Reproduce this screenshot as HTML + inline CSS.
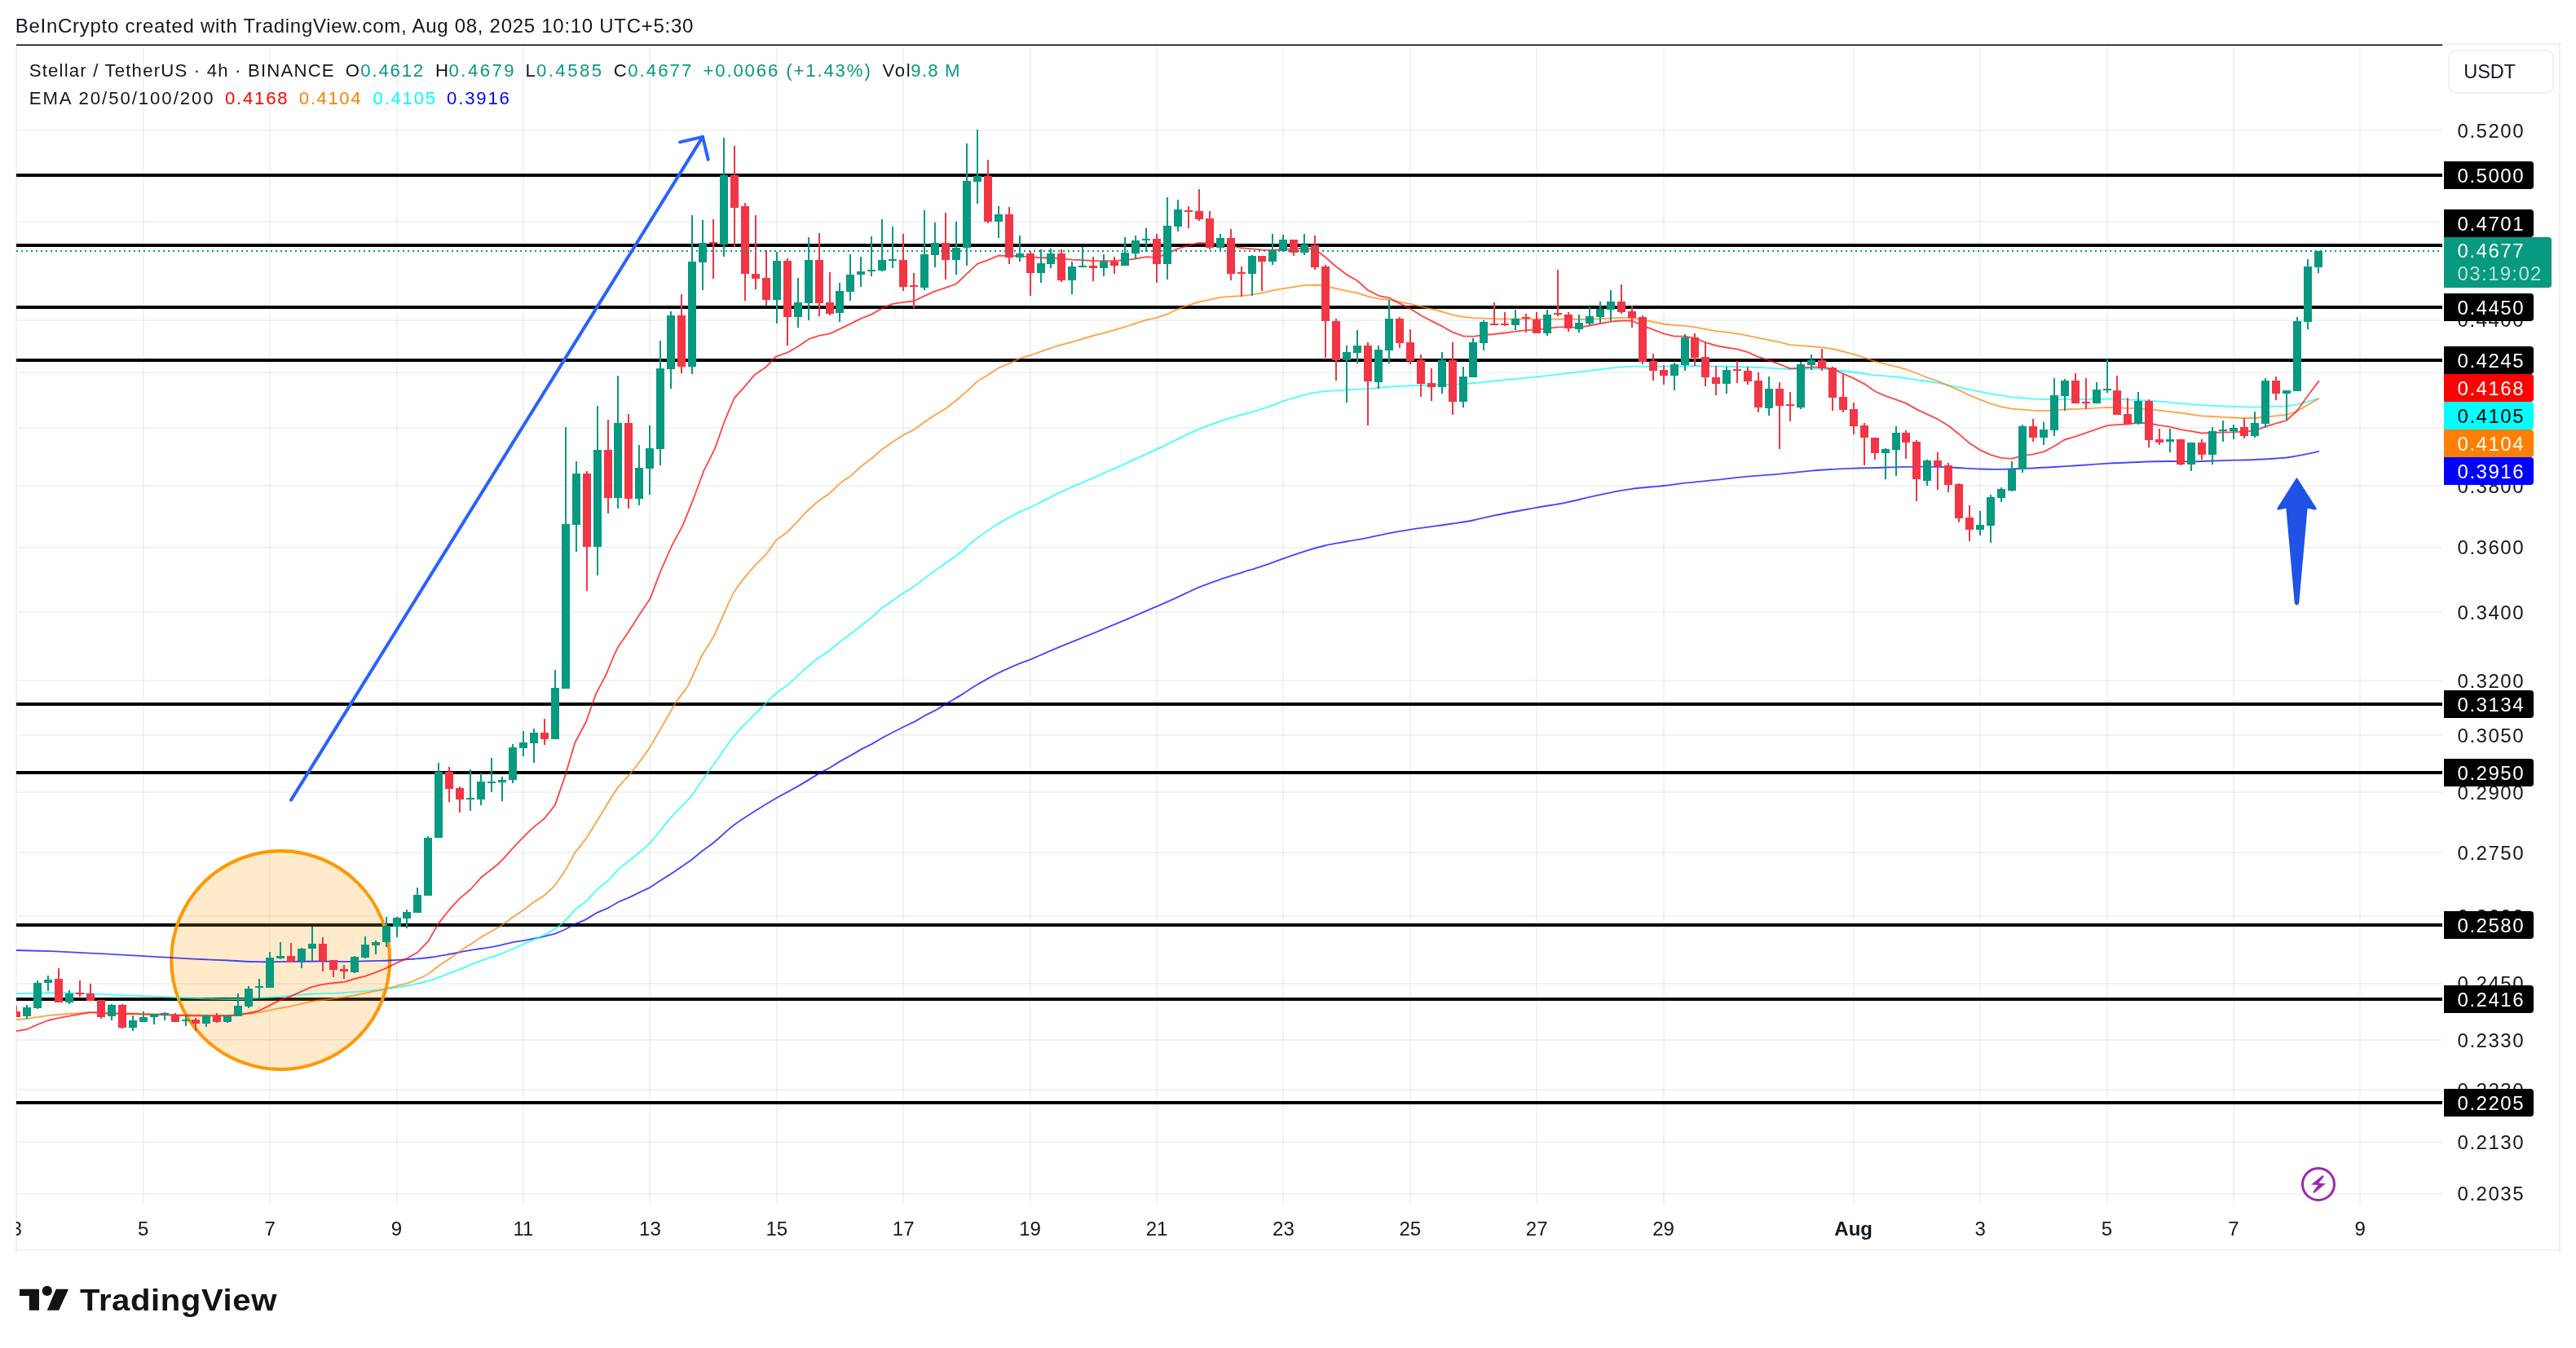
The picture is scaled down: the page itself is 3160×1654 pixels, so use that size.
<!DOCTYPE html>
<html><head><meta charset="utf-8"><title>XLMUSDT chart</title>
<style>
html,body{margin:0;padding:0;background:#fff;}
body{width:3160px;height:1654px;font-family:"Liberation Sans",sans-serif;}
svg{display:block;}
svg text{font-family:"Liberation Sans",sans-serif;white-space:pre;}
</style></head><body>
<svg width="3160" height="1654" viewBox="0 0 3160 1654">
<rect width="3160" height="1654" fill="#fff"/>
<g fill="rgb(42,46,57)" fill-opacity="0.06" shape-rendering="crispEdges">
<rect x="175" y="57" width="2" height="1421"/>
<rect x="330" y="57" width="2" height="1421"/>
<rect x="486" y="57" width="2" height="1421"/>
<rect x="641" y="57" width="2" height="1421"/>
<rect x="796" y="57" width="2" height="1421"/>
<rect x="952" y="57" width="2" height="1421"/>
<rect x="1107" y="57" width="2" height="1421"/>
<rect x="1263" y="57" width="2" height="1421"/>
<rect x="1418" y="57" width="2" height="1421"/>
<rect x="1573" y="57" width="2" height="1421"/>
<rect x="1729" y="57" width="2" height="1421"/>
<rect x="1884" y="57" width="2" height="1421"/>
<rect x="2040" y="57" width="2" height="1421"/>
<rect x="2273" y="57" width="2" height="1421"/>
<rect x="2428" y="57" width="2" height="1421"/>
<rect x="2584" y="57" width="2" height="1421"/>
<rect x="2739" y="57" width="2" height="1421"/>
<rect x="2894" y="57" width="2" height="1421"/>
<rect x="21" y="159" width="2975" height="2"/>
<rect x="21" y="271" width="2975" height="2"/>
<rect x="21" y="392" width="2975" height="2"/>
<rect x="21" y="456" width="2975" height="2"/>
<rect x="21" y="524" width="2975" height="2"/>
<rect x="21" y="595" width="2975" height="2"/>
<rect x="21" y="671" width="2975" height="2"/>
<rect x="21" y="750" width="2975" height="2"/>
<rect x="21" y="834" width="2975" height="2"/>
<rect x="21" y="901" width="2975" height="2"/>
<rect x="21" y="971" width="2975" height="2"/>
<rect x="21" y="1045" width="2975" height="2"/>
<rect x="21" y="1123" width="2975" height="2"/>
<rect x="21" y="1206" width="2975" height="2"/>
<rect x="21" y="1275" width="2975" height="2"/>
<rect x="21" y="1336" width="2975" height="2"/>
<rect x="21" y="1400" width="2975" height="2"/>
<rect x="21" y="1464" width="2975" height="2"/>
</g>
<g fill="rgb(42,46,57)" fill-opacity="0.065" shape-rendering="crispEdges">
<rect x="19" y="56" width="2" height="1479"/>
<rect x="19" y="1533" width="3122" height="2"/>
<rect x="3139" y="53" width="2" height="1482"/>
<rect x="2996" y="53" width="145" height="2"/>
<rect x="21" y="57" width="2975" height="1" fill-opacity="0.04"/>
</g>
<g shape-rendering="crispEdges"><rect x="20" y="54" width="2976" height="1" fill="#7a7a7a"/><rect x="20" y="55" width="2976" height="1" fill="#000"/></g>
<g fill="#000" shape-rendering="crispEdges">
<rect x="20" y="213" width="2976" height="4"/>
<rect x="20" y="299" width="2976" height="4"/>
<rect x="20" y="375" width="2976" height="4"/>
<rect x="20" y="440" width="2976" height="4"/>
<rect x="20" y="862" width="2976" height="4"/>
<rect x="20" y="946" width="2976" height="4"/>
<rect x="20" y="1133" width="2976" height="4"/>
<rect x="20" y="1224" width="2976" height="4"/>
<rect x="20" y="1351" width="2976" height="4"/>
</g>
<svg x="20" y="56" width="2976" height="1422" viewBox="20 56 2976 1422" overflow="hidden">
<circle cx="344.2" cy="1178.1" r="134.0" fill="#ff9800" fill-opacity="0.2" stroke="#ff9800" stroke-width="4.1"/>
<path d="M20.0,1166.0 C27.2,1166.2 49.0,1166.7 63.5,1167.2 C78.0,1167.8 92.5,1168.5 107.0,1169.3 C121.5,1170.0 135.9,1170.9 150.4,1171.7 C164.9,1172.5 179.4,1173.3 193.9,1174.1 C208.4,1174.9 222.9,1175.9 237.4,1176.6 C251.9,1177.3 267.5,1177.9 280.9,1178.5 C294.3,1179.1 305.7,1180.0 317.7,1180.2 C329.7,1180.4 340.9,1180.0 353.1,1179.9 C365.3,1179.8 378.3,1179.5 390.9,1179.5 C403.5,1179.5 416.1,1179.9 428.7,1179.8 C441.3,1179.7 456.9,1179.2 466.6,1178.9 C476.3,1178.6 479.4,1178.3 486.7,1177.9 C494.0,1177.5 503.5,1177.0 510.7,1176.4 C517.9,1175.8 523.3,1175.3 529.6,1174.5 C535.9,1173.7 541.8,1172.5 548.5,1171.3 C555.2,1170.1 564.2,1168.3 570.0,1167.2 L583.5,1164.9 C589.4,1164.0 598.0,1163.0 605.2,1161.6 C612.5,1160.2 619.8,1158.2 627.0,1156.7 C634.2,1155.2 642.4,1154.1 648.7,1152.9 C655.0,1151.7 659.8,1150.9 665.0,1149.7 L680.2,1145.9 L692.2,1141.0 L703.0,1135.0 C707.5,1132.8 714.4,1130.4 719.3,1127.9 L732.4,1119.8 L746.5,1113.8 L759.6,1106.2 L771.5,1101.3 L784.6,1094.8 L797.6,1088.8 L809.6,1080.7 L821.3,1073.4 C827.8,1069.1 842.1,1059.4 848.6,1054.7 L860.0,1045.3 C864.5,1041.8 868.9,1039.2 875.6,1033.7 C882.3,1028.2 891.6,1019.1 900.1,1012.6 C908.6,1006.1 918.1,1000.4 926.8,994.8 C935.5,989.2 945.6,983.1 952.3,979.2 L966.8,971.4 C972.2,968.4 978.3,965.1 984.6,961.4 C990.9,957.7 999.0,952.3 1004.6,949.1 L1018.0,942.0 L1031.3,933.6 L1044.7,926.4 L1056.9,919.1 L1069.2,913.1 L1082.5,905.3 C1089.0,901.8 1101.4,895.4 1108.1,892.0 L1122.6,885.1 L1135.9,877.3 L1149.3,870.6 L1162.6,862.4 C1167.6,859.4 1173.2,856.3 1179.2,852.6 C1185.2,848.9 1191.1,844.6 1198.4,840.3 C1205.7,836.0 1214.4,831.0 1223.1,826.6 C1231.8,822.2 1243.8,817.1 1250.6,814.2 L1263.7,809.3 C1270.1,806.6 1280.7,801.8 1289.0,798.3 C1297.3,794.8 1305.0,791.6 1313.7,788.1 C1322.4,784.6 1331.9,781.0 1341.1,777.2 C1350.2,773.5 1359.9,769.3 1368.6,765.6 C1377.3,761.9 1384.9,758.8 1393.3,755.2 C1401.7,751.6 1410.1,748.0 1418.8,744.2 C1427.5,740.4 1436.9,736.3 1445.4,732.4 C1454.0,728.5 1461.6,724.4 1470.1,720.9 C1478.6,717.4 1487.8,714.2 1496.4,711.2 C1505.0,708.2 1512.8,705.9 1521.6,703.1 C1530.4,700.3 1540.7,697.2 1549.4,694.3 C1558.2,691.3 1565.3,688.5 1574.1,685.4 C1582.9,682.3 1593.8,678.4 1602.3,675.8 C1610.8,673.1 1616.7,671.4 1625.0,669.5 C1633.3,667.6 1643.2,666.1 1652.0,664.5 C1660.8,662.9 1669.5,661.6 1678.0,659.9 C1686.5,658.2 1694.6,656.1 1703.2,654.4 C1711.8,652.7 1720.9,651.3 1729.7,649.9 C1738.5,648.5 1747.5,647.3 1756.2,646.1 C1764.9,644.9 1773.5,643.8 1781.9,642.5 C1790.3,641.2 1797.8,640.2 1806.6,638.5 C1815.3,636.8 1821.4,634.8 1834.4,632.2 C1847.4,629.6 1870.5,625.5 1884.8,622.9 C1899.1,620.3 1909.1,619.1 1920.0,616.9 C1930.9,614.7 1940.7,612.0 1950.0,609.9 C1959.3,607.8 1967.3,606.0 1976.0,604.3 C1984.7,602.6 1991.2,601.2 2002.0,599.8 C2012.8,598.4 2030.0,597.2 2040.8,596.0 C2051.6,594.8 2056.1,593.9 2066.8,592.7 C2077.5,591.5 2092.0,590.2 2104.9,588.9 C2117.8,587.5 2131.0,585.8 2144.0,584.6 C2157.0,583.4 2170.1,582.8 2183.1,581.6 C2196.1,580.4 2211.1,578.6 2221.9,577.6 C2232.7,576.6 2239.2,576.3 2247.9,575.8 C2256.6,575.3 2265.2,574.9 2273.8,574.6 C2282.5,574.3 2289.1,574.3 2299.8,574.0 C2310.5,573.7 2325.0,573.0 2337.8,572.8 C2350.7,572.6 2366.1,572.6 2376.9,572.8 C2387.8,573.0 2394.2,573.5 2402.9,574.0 C2411.6,574.5 2420.2,575.2 2428.9,575.5 C2437.6,575.8 2446.2,575.9 2454.9,575.8 C2463.6,575.7 2470.0,575.5 2480.8,575.0 C2491.6,574.5 2506.9,573.8 2519.9,573.0 C2532.9,572.2 2548.2,571.2 2559.0,570.5 C2569.8,569.8 2574.3,569.3 2585.0,568.7 C2595.7,568.1 2610.3,567.5 2623.1,567.0 C2635.9,566.5 2651.1,566.1 2661.9,566.0 C2672.7,565.9 2679.3,566.4 2688.0,566.3 C2696.7,566.2 2705.3,565.8 2714.0,565.5 C2722.7,565.2 2731.2,565.0 2739.9,564.7 C2748.6,564.5 2757.2,564.4 2765.9,564.0 C2774.6,563.6 2785.4,562.9 2791.9,562.5 L2805.0,561.5 L2817.9,559.4 L2831.0,556.9 L2844.9,553.9" fill="none" stroke="#0000ff" stroke-opacity="0.72" stroke-width="1.85" stroke-linejoin="round" stroke-linecap="butt"/>
<path d="M20.0,1219.0 C26.3,1218.9 45.3,1218.5 58.0,1218.5 C70.7,1218.5 84.3,1218.4 96.1,1218.7 C107.9,1219.0 116.0,1219.5 128.7,1220.1 C141.4,1220.6 157.7,1221.4 172.2,1222.0 C186.7,1222.6 201.2,1223.3 215.7,1223.9 C230.2,1224.5 246.7,1225.2 259.1,1225.5 C271.5,1225.8 280.2,1226.1 290.0,1226.0 C299.8,1225.9 309.3,1225.2 317.7,1224.7 C326.1,1224.2 333.2,1223.7 340.4,1223.1 C347.5,1222.5 353.5,1221.8 360.6,1221.2 C367.8,1220.6 374.1,1220.0 383.3,1219.5 C392.6,1219.0 406.4,1218.8 416.1,1218.3 C425.8,1217.8 432.9,1217.4 441.3,1216.7 C449.7,1216.0 459.0,1215.0 466.6,1214.2 C474.2,1213.4 480.4,1212.6 486.7,1211.7 C493.0,1210.8 497.9,1210.0 504.4,1208.6 C510.9,1207.2 519.5,1205.3 525.8,1203.5 C532.1,1201.7 537.4,1199.6 542.2,1197.8 L554.8,1192.8 L570.0,1186.9 L578.0,1183.4 C582.0,1181.8 587.9,1179.7 594.3,1177.4 C600.6,1175.1 608.1,1173.0 616.1,1169.8 C624.1,1166.6 635.0,1161.6 642.2,1158.4 C649.5,1155.2 654.9,1152.9 659.6,1150.8 L670.4,1145.9 L680.2,1140.4 L690.0,1132.8 L697.6,1125.2 L706.3,1115.4 L719.3,1105.7 L733.5,1090.4 L746.5,1080.1 L757.4,1067.6 C761.9,1063.4 766.8,1060.3 773.5,1054.7 C780.2,1049.1 789.4,1042.5 797.4,1034.2 C805.4,1026.0 812.8,1014.9 821.3,1005.2 C829.8,995.5 842.1,983.9 848.6,976.2 L860.0,959.2 C864.5,952.8 868.9,947.3 875.6,938.0 C882.3,928.7 891.6,913.9 900.1,903.5 C908.6,893.1 918.1,884.5 926.8,875.7 C935.5,866.9 945.6,856.5 952.3,850.6 L966.8,840.1 C972.2,835.6 978.3,829.0 984.6,823.4 C990.9,817.8 999.0,811.0 1004.6,806.7 L1018.0,797.8 L1031.3,786.7 L1044.7,776.7 L1056.7,767.4 L1069.3,757.4 L1081.9,746.0 L1094.5,737.2 L1108.4,727.6 L1122.2,719.0 L1134.8,708.9 L1147.4,700.1 L1160.0,690.9 C1165.3,687.0 1172.8,682.1 1179.2,677.0 C1185.6,671.9 1191.1,666.1 1198.4,660.5 C1205.7,654.9 1214.4,648.9 1223.1,643.5 C1231.8,638.1 1243.8,631.9 1250.6,628.4 L1263.7,622.7 C1270.1,619.6 1280.7,613.9 1289.0,609.8 C1297.3,605.7 1305.0,602.1 1313.7,598.2 C1322.4,594.3 1331.9,590.4 1341.1,586.4 C1350.2,582.4 1359.9,578.0 1368.6,574.1 C1377.3,570.2 1384.9,566.9 1393.3,563.1 C1401.7,559.3 1410.1,555.4 1418.8,551.3 C1427.5,547.2 1436.9,542.5 1445.4,538.4 C1454.0,534.3 1461.6,530.5 1470.1,526.9 C1478.6,523.3 1487.8,519.9 1496.4,517.0 C1505.0,514.1 1514.3,511.5 1521.6,509.4 C1528.9,507.3 1533.5,506.3 1540.0,504.3 C1546.5,502.3 1555.2,499.3 1560.9,497.3 L1574.0,492.2 L1586.9,488.4 L1600.0,484.6 L1612.9,481.6 L1626.0,480.1 L1638.9,479.3 L1652.0,478.3 L1664.8,477.6 L1678.0,477.1 L1691.1,475.8 L1703.9,474.6 L1717.0,473.8 L1729.9,473.3 L1743.0,472.8 L1755.9,472.3 L1769.0,472.0 L1781.9,472.0 L1795.0,471.0 L1807.1,470.0 L1820.0,468.8 L1833.1,467.5 L1845.9,466.2 L1859.0,465.0 L1871.9,463.7 L1885.0,462.4 L1897.9,460.9 L1911.0,459.4 L1923.9,457.9 C1930.4,457.1 1941.3,455.8 1950.0,454.8 C1958.7,453.8 1967.3,452.6 1976.0,451.7 C1984.7,450.8 1993.3,450.0 2002.0,449.7 C2010.7,449.4 2019.2,449.7 2027.9,449.7 C2036.6,449.7 2045.4,449.6 2053.9,449.5 C2062.4,449.4 2070.4,449.0 2078.9,449.0 C2087.4,449.0 2096.2,449.3 2104.9,449.5 C2113.6,449.7 2122.2,449.8 2130.8,450.0 C2139.5,450.2 2148.1,450.6 2156.8,451.0 C2165.5,451.4 2176.6,451.9 2183.1,452.2 L2195.9,453.0 L2209.0,452.7 C2215.5,452.6 2228.5,452.6 2235.0,452.7 L2247.9,453.5 L2261.0,455.0 L2273.8,456.5 L2287.0,458.5 L2299.8,460.3 C2306.3,461.0 2317.5,461.5 2326.0,462.5 C2334.5,463.5 2342.4,464.9 2350.9,466.1 C2359.4,467.3 2368.2,468.4 2376.9,469.9 C2385.6,471.4 2396.4,473.8 2402.9,475.2 L2416.0,478.2 L2428.9,480.7 L2442.0,483.2 L2454.9,485.2 L2468.0,487.3 L2480.8,488.3 L2493.9,489.3 L2506.8,489.8 L2519.9,490.0 L2532.8,489.8 L2545.9,489.8 L2559.0,489.8 L2571.9,489.5 L2585.0,489.3 L2596.8,489.5 L2610.0,490.3 L2623.1,490.8 L2635.9,491.6 L2649.1,492.6 L2661.9,493.6 L2674.9,495.1 L2688.0,496.1 L2701.1,497.2 L2714.0,497.9 L2727.1,498.4 L2739.9,498.9 L2753.1,499.4 L2765.9,499.7 L2779.0,498.9 L2791.9,498.7 L2805.0,498.4 L2817.9,496.4 L2831.0,492.6 L2844.9,488.8" fill="none" stroke="#00ffff" stroke-opacity="0.72" stroke-width="1.85" stroke-linejoin="round" stroke-linecap="butt"/>
<path d="M20.0,1251.1 L33.0,1250.0 C39.7,1249.1 51.5,1246.9 60.2,1245.9 C68.9,1244.9 76.9,1244.6 85.2,1244.0 C93.5,1243.4 102.8,1242.3 110.2,1242.1 C117.6,1241.9 122.2,1242.7 129.8,1242.9 C137.4,1243.1 147.0,1243.3 155.9,1243.5 C164.8,1243.7 173.0,1243.7 183.0,1244.0 C193.0,1244.3 204.8,1244.8 215.7,1245.1 C226.6,1245.4 237.4,1245.6 248.3,1245.7 C259.2,1245.8 272.8,1246.1 280.9,1245.9 C289.0,1245.7 290.8,1245.2 296.9,1244.5 C303.0,1243.8 310.4,1243.2 317.7,1242.0 C324.9,1240.8 333.2,1239.0 340.4,1237.6 C347.5,1236.2 353.5,1235.3 360.6,1233.8 C367.8,1232.3 376.2,1230.0 383.3,1228.7 C390.4,1227.4 395.9,1227.2 403.5,1226.2 C411.1,1225.2 420.3,1223.9 428.7,1222.4 C437.1,1220.9 446.6,1218.9 454.0,1217.4 C461.4,1215.9 467.4,1214.9 472.9,1213.6 L486.7,1209.8 C491.9,1208.3 497.9,1207.3 504.4,1204.8 C510.9,1202.3 520.3,1197.9 525.8,1194.7 L537.2,1185.8 L548.5,1178.3 L561.2,1169.5 L570.0,1163.1 L577.0,1158.9 L592.2,1148.6 L605.2,1141.5 L616.1,1135.0 L629.1,1125.2 L642.2,1116.5 L654.1,1107.3 L667.2,1099.1 L679.1,1088.3 L687.8,1076.3 L694.3,1066.5 L705.3,1046.1 L718.9,1029.1 L732.6,1006.9 C739.2,996.4 751.4,975.6 758.2,965.9 L773.5,948.9 C780.0,940.7 788.3,930.7 797.4,916.5 C806.5,902.3 820.2,876.2 828.1,863.5 C836.0,850.8 839.4,849.6 844.7,840.1 L860.0,806.5 C865.3,796.3 869.7,792.0 876.4,778.8 C883.1,765.6 892.1,741.2 900.3,727.1 C908.5,713.0 918.9,702.3 925.6,694.3 L940.7,679.2 L952.0,662.8 L965.9,652.7 C972.4,646.6 984.8,632.5 991.1,626.2 L1003.7,614.9 L1017.6,605.3 L1031.5,592.2 L1044.1,583.4 L1056.7,572.0 L1069.3,562.5 L1081.9,551.4 L1094.5,542.5 L1108.4,533.7 L1122.2,526.6 L1134.8,517.1 L1147.4,509.0 L1160.0,501.4 L1172.9,491.5 L1186.0,480.1 L1198.8,468.0 L1212.0,460.0 L1224.8,451.6 L1237.9,446.1 L1250.8,439.8 L1263.9,436.0 C1270.2,433.9 1280.4,429.9 1288.9,427.2 C1297.4,424.5 1306.2,422.1 1314.9,419.6 C1323.6,417.1 1332.2,414.4 1340.8,412.0 C1349.4,409.6 1358.1,407.7 1366.8,405.2 C1375.5,402.7 1386.3,399.0 1392.8,396.9 L1405.9,392.6 L1419.0,389.8 L1431.9,385.5 L1445.0,379.2 L1457.9,374.7 L1471.0,370.4 L1483.8,367.9 L1497.0,364.9 C1503.5,364.1 1514.4,363.8 1522.9,362.9 C1531.4,362.0 1541.6,360.7 1547.9,359.6 L1560.9,356.5 L1574.0,354.2 L1586.9,352.2 L1600.0,350.2 L1612.9,349.5 L1626.0,351.0 L1638.9,354.0 L1652.0,356.8 L1664.8,359.5 L1678.0,363.6 L1691.1,366.6 L1703.9,367.9 L1717.0,370.4 L1729.9,372.9 L1743.0,376.2 L1755.9,379.2 L1769.0,382.5 L1781.9,386.3 L1795.0,388.8 L1807.1,390.1 L1820.0,390.6 L1833.1,391.1 L1845.9,391.3 L1859.0,391.3 L1871.9,391.3 L1885.0,391.6 L1897.9,391.6 L1911.0,391.3 L1923.9,391.6 L1936.9,391.7 L1950.0,391.7 L1962.9,391.2 L1976.0,390.4 L1988.9,389.9 L2002.0,390.4 L2014.8,392.2 L2027.9,395.0 L2040.8,397.5 L2053.9,399.0 L2066.8,399.8 L2078.9,401.3 L2092.0,403.8 L2104.9,406.1 L2118.0,407.6 L2130.8,409.4 L2144.0,411.9 L2156.8,414.7 L2169.9,417.2 L2183.1,419.9 L2195.9,423.2 L2209.0,424.2 L2221.9,425.0 L2235.0,426.3 L2247.9,428.0 L2261.0,431.3 L2273.8,434.6 L2287.0,438.9 L2299.8,443.4 L2312.9,446.7 L2326.0,449.9 L2337.8,453.0 L2350.9,458.0 L2364.1,463.1 L2376.9,467.6 L2390.0,473.1 L2402.9,478.7 L2416.0,485.2 L2428.9,490.3 L2442.0,495.3 L2454.9,499.1 L2468.0,501.6 L2480.8,502.6 L2493.9,503.7 L2506.8,504.2 L2519.9,503.4 L2532.8,502.4 L2545.9,501.9 L2559.0,501.4 L2571.9,500.6 L2585.0,499.9 L2596.8,500.1 L2610.0,500.9 L2623.1,501.1 L2635.9,502.1 L2649.1,503.7 L2661.9,505.2 L2674.9,506.5 L2688.0,508.5 L2701.1,510.3 L2714.0,511.0 L2727.1,511.8 L2739.9,512.5 L2753.1,513.0 L2765.9,513.0 L2779.0,511.5 L2791.9,510.3 L2805.0,509.0 L2817.9,504.5 L2831.0,496.9 L2844.9,488.8" fill="none" stroke="#ff7f00" stroke-opacity="0.72" stroke-width="1.85" stroke-linejoin="round" stroke-linecap="butt"/>
<path d="M20.0,1265.2 L33.0,1263.0 L46.1,1257.1 L59.1,1252.0 L72.2,1249.1 L85.2,1246.7 L98.3,1244.3 L110.2,1242.4 L117.8,1242.4 L129.8,1243.3 C136.2,1243.6 147.0,1243.8 155.9,1244.0 C164.8,1244.2 173.0,1244.5 183.0,1244.8 C193.0,1245.1 206.6,1245.4 215.7,1245.7 C224.8,1246.0 230.2,1246.3 237.4,1246.4 C244.6,1246.5 251.9,1246.4 259.1,1246.4 C266.4,1246.4 274.6,1246.5 280.9,1246.2 C287.2,1245.9 290.8,1245.5 296.9,1244.5 C303.0,1243.5 312.1,1241.9 317.7,1240.1 L330.4,1233.8 L344.2,1226.8 L356.8,1222.4 L370.7,1216.1 L382.1,1211.1 L395.9,1207.9 L409.8,1206.0 L422.4,1204.8 L435.0,1201.0 L447.7,1197.8 L460.3,1193.4 L472.9,1188.4 L486.7,1181.4 L499.4,1175.8 L512.0,1168.8 L525.8,1154.3 L537.2,1134.1 L550.9,1116.5 L563.9,1102.4 L577.0,1091.5 L590.0,1076.8 L600.9,1068.2 L611.2,1060.0 L616.5,1054.7 C620.2,1050.7 627.3,1042.5 633.6,1035.9 C639.9,1029.4 648.4,1020.6 654.1,1015.4 L667.7,1004.5 L680.7,988.1 L693.7,950.6 L705.3,911.3 L718.9,885.7 L730.9,851.6 L742.4,829.9 C746.9,820.3 753.2,803.2 758.0,794.1 L771.0,775.3 L784.0,754.8 L797.6,734.4 L810.6,700.2 L824.2,669.5 L837.9,643.9 L851.5,609.8 L863.5,577.4 L877.1,550.1 L889.1,516.0 L901.0,488.0 L912.9,475.1 L925.9,459.7 L939.9,450.2 L951.5,437.6 L965.9,432.6 L979.2,425.0 L991.9,416.2 L1004.7,411.9 L1017.8,409.4 C1024.2,407.0 1036.8,400.4 1043.1,397.3 L1055.9,390.9 L1069.0,385.9 L1081.9,378.3 L1095.0,372.8 L1107.9,370.8 L1121.0,369.5 L1133.9,363.2 L1147.0,357.4 L1159.8,353.1 L1172.9,348.5 L1186.0,335.9 L1198.8,323.8 L1212.0,319.2 L1224.8,313.7 L1237.9,313.7 L1250.8,314.4 L1263.9,315.4 L1276.8,316.2 L1288.9,316.2 L1302.0,317.5 L1314.9,318.7 L1328.0,319.2 L1340.8,320.0 L1353.9,320.2 L1366.8,320.0 L1379.9,319.2 L1392.8,317.5 L1405.9,315.2 L1419.0,316.2 L1431.9,311.1 L1445.0,305.1 L1457.9,301.1 L1471.0,298.0 L1483.8,298.5 L1497.0,299.0 L1509.8,301.1 L1522.9,304.3 L1536.0,305.3 L1547.9,306.6 L1560.9,306.8 L1574.0,306.1 L1586.9,305.1 L1600.0,305.1 L1612.9,305.6 L1626.0,315.7 L1638.9,327.0 L1652.0,337.1 L1664.8,344.2 L1678.0,356.0 L1691.1,362.8 L1703.9,365.3 L1717.0,372.4 L1729.9,378.7 L1743.0,387.0 L1755.9,393.8 L1769.0,400.2 L1781.9,407.7 L1795.0,412.3 L1807.1,412.8 L1820.0,411.0 L1833.1,410.0 L1845.9,408.5 L1859.0,406.7 L1871.9,405.2 L1885.0,404.7 L1897.9,403.2 L1911.0,401.4 L1923.9,401.4 L1936.9,401.8 L1950.0,399.5 L1962.9,397.0 L1976.0,394.7 L1988.9,393.5 L2002.0,393.5 L2014.8,399.3 L2027.9,404.3 L2040.8,409.4 L2053.9,412.6 L2066.8,412.6 L2078.9,414.9 L2092.0,420.2 L2104.9,424.0 L2118.0,426.5 L2130.8,428.3 L2144.0,432.1 L2156.8,437.9 L2169.9,442.1 L2183.1,446.9 L2195.9,452.2 L2209.0,451.5 L2221.9,450.5 L2235.0,450.5 L2247.9,452.7 L2261.0,458.5 L2273.8,464.1 L2287.0,471.1 L2299.8,480.0 L2312.9,485.8 L2326.0,490.3 L2337.8,494.6 L2350.9,502.1 L2364.1,508.4 L2376.9,514.2 L2390.0,522.3 L2402.9,532.4 L2416.0,543.8 L2428.9,552.1 L2442.0,558.1 L2454.9,561.9 L2468.0,562.9 L2480.8,558.9 L2493.9,557.4 L2506.8,554.4 L2519.9,547.5 L2532.8,539.5 L2545.9,535.7 L2559.0,531.1 L2571.9,526.6 L2585.0,522.1 L2596.8,521.1 L2610.0,520.6 L2623.1,518.5 L2635.9,519.5 L2649.1,521.8 L2661.9,523.6 L2674.9,527.2 L2688.0,529.2 L2701.1,531.5 L2714.0,531.0 L2727.1,530.4 L2739.9,530.2 L2753.1,529.7 L2765.9,528.4 L2779.0,523.4 L2791.9,519.6 L2805.0,515.8 L2817.9,504.0 L2831.0,485.5 L2844.9,467.1" fill="none" stroke="#ff0000" stroke-opacity="0.72" stroke-width="1.85" stroke-linejoin="round" stroke-linecap="butt"/>
<g shape-rendering="crispEdges">
<rect x="19" y="1234" width="2" height="14" fill="#f23645"/>
<rect x="15" y="1241" width="10" height="7" fill="#f23645"/>
<rect x="32" y="1233" width="2" height="17" fill="#089981"/>
<rect x="28" y="1236" width="10" height="11" fill="#089981"/>
<rect x="45" y="1203" width="2" height="35" fill="#089981"/>
<rect x="41" y="1206" width="10" height="31" fill="#089981"/>
<rect x="58" y="1197" width="2" height="19" fill="#089981"/>
<rect x="54" y="1202" width="10" height="4" fill="#089981"/>
<rect x="71" y="1188" width="2" height="42" fill="#f23645"/>
<rect x="67" y="1201" width="10" height="29" fill="#f23645"/>
<rect x="84" y="1215" width="2" height="17" fill="#089981"/>
<rect x="80" y="1219" width="10" height="11" fill="#089981"/>
<rect x="97" y="1203" width="2" height="20" fill="#f23645"/>
<rect x="93" y="1218" width="10" height="2" fill="#f23645"/>
<rect x="110" y="1207" width="2" height="21" fill="#f23645"/>
<rect x="106" y="1219" width="10" height="9" fill="#f23645"/>
<rect x="123" y="1227" width="2" height="23" fill="#f23645"/>
<rect x="119" y="1227" width="10" height="21" fill="#f23645"/>
<rect x="136" y="1232" width="2" height="20" fill="#089981"/>
<rect x="132" y="1233" width="10" height="14" fill="#089981"/>
<rect x="149" y="1232" width="2" height="30" fill="#f23645"/>
<rect x="145" y="1233" width="10" height="28" fill="#f23645"/>
<rect x="162" y="1246" width="2" height="19" fill="#089981"/>
<rect x="158" y="1252" width="10" height="9" fill="#089981"/>
<rect x="175" y="1241" width="2" height="13" fill="#089981"/>
<rect x="171" y="1248" width="10" height="6" fill="#089981"/>
<rect x="188" y="1244" width="2" height="13" fill="#089981"/>
<rect x="184" y="1244" width="10" height="4" fill="#089981"/>
<rect x="201" y="1242" width="2" height="10" fill="#089981"/>
<rect x="197" y="1243" width="10" height="2" fill="#089981"/>
<rect x="214" y="1243" width="2" height="11" fill="#f23645"/>
<rect x="210" y="1245" width="10" height="9" fill="#f23645"/>
<rect x="227" y="1246" width="2" height="13" fill="#089981"/>
<rect x="223" y="1251" width="10" height="2" fill="#089981"/>
<rect x="239" y="1249" width="2" height="16" fill="#f23645"/>
<rect x="235" y="1251" width="10" height="5" fill="#f23645"/>
<rect x="252" y="1245" width="2" height="15" fill="#089981"/>
<rect x="248" y="1246" width="10" height="10" fill="#089981"/>
<rect x="265" y="1243" width="2" height="12" fill="#f23645"/>
<rect x="261" y="1246" width="10" height="8" fill="#f23645"/>
<rect x="278" y="1246" width="2" height="9" fill="#089981"/>
<rect x="274" y="1246" width="10" height="8" fill="#089981"/>
<rect x="291" y="1219" width="2" height="28" fill="#089981"/>
<rect x="287" y="1234" width="10" height="13" fill="#089981"/>
<rect x="304" y="1210" width="2" height="27" fill="#089981"/>
<rect x="300" y="1213" width="10" height="22" fill="#089981"/>
<rect x="317" y="1201" width="2" height="24" fill="#089981"/>
<rect x="313" y="1210" width="10" height="2" fill="#089981"/>
<rect x="330" y="1168" width="2" height="44" fill="#089981"/>
<rect x="326" y="1175" width="10" height="37" fill="#089981"/>
<rect x="343" y="1156" width="2" height="21" fill="#089981"/>
<rect x="339" y="1173" width="10" height="3" fill="#089981"/>
<rect x="356" y="1157" width="2" height="23" fill="#f23645"/>
<rect x="352" y="1173" width="10" height="7" fill="#f23645"/>
<rect x="369" y="1163" width="2" height="25" fill="#089981"/>
<rect x="365" y="1164" width="10" height="15" fill="#089981"/>
<rect x="382" y="1137" width="2" height="42" fill="#089981"/>
<rect x="378" y="1158" width="10" height="6" fill="#089981"/>
<rect x="395" y="1150" width="2" height="42" fill="#f23645"/>
<rect x="391" y="1158" width="10" height="21" fill="#f23645"/>
<rect x="408" y="1178" width="2" height="21" fill="#f23645"/>
<rect x="404" y="1178" width="10" height="12" fill="#f23645"/>
<rect x="421" y="1184" width="2" height="17" fill="#f23645"/>
<rect x="417" y="1189" width="10" height="3" fill="#f23645"/>
<rect x="434" y="1173" width="2" height="21" fill="#089981"/>
<rect x="430" y="1174" width="10" height="19" fill="#089981"/>
<rect x="447" y="1149" width="2" height="27" fill="#089981"/>
<rect x="443" y="1159" width="10" height="16" fill="#089981"/>
<rect x="460" y="1154" width="2" height="17" fill="#089981"/>
<rect x="456" y="1156" width="10" height="4" fill="#089981"/>
<rect x="473" y="1125" width="2" height="37" fill="#089981"/>
<rect x="469" y="1136" width="10" height="20" fill="#089981"/>
<rect x="486" y="1125" width="2" height="25" fill="#089981"/>
<rect x="482" y="1126" width="10" height="11" fill="#089981"/>
<rect x="498" y="1116" width="2" height="23" fill="#089981"/>
<rect x="494" y="1119" width="10" height="8" fill="#089981"/>
<rect x="511" y="1089" width="2" height="31" fill="#089981"/>
<rect x="507" y="1098" width="10" height="22" fill="#089981"/>
<rect x="524" y="1026" width="2" height="73" fill="#089981"/>
<rect x="520" y="1028" width="10" height="71" fill="#089981"/>
<rect x="537" y="936" width="2" height="92" fill="#089981"/>
<rect x="533" y="947" width="10" height="81" fill="#089981"/>
<rect x="550" y="941" width="2" height="43" fill="#f23645"/>
<rect x="546" y="947" width="10" height="21" fill="#f23645"/>
<rect x="563" y="965" width="2" height="32" fill="#f23645"/>
<rect x="559" y="967" width="10" height="14" fill="#f23645"/>
<rect x="576" y="944" width="2" height="51" fill="#089981"/>
<rect x="572" y="979" width="10" height="2" fill="#089981"/>
<rect x="589" y="949" width="2" height="39" fill="#089981"/>
<rect x="585" y="959" width="10" height="22" fill="#089981"/>
<rect x="602" y="930" width="2" height="42" fill="#089981"/>
<rect x="598" y="959" width="10" height="2" fill="#089981"/>
<rect x="615" y="953" width="2" height="30" fill="#089981"/>
<rect x="611" y="957" width="10" height="3" fill="#089981"/>
<rect x="628" y="913" width="2" height="48" fill="#089981"/>
<rect x="624" y="917" width="10" height="40" fill="#089981"/>
<rect x="641" y="897" width="2" height="31" fill="#089981"/>
<rect x="637" y="911" width="10" height="7" fill="#089981"/>
<rect x="654" y="894" width="2" height="42" fill="#089981"/>
<rect x="650" y="899" width="10" height="13" fill="#089981"/>
<rect x="667" y="882" width="2" height="32" fill="#f23645"/>
<rect x="663" y="899" width="10" height="8" fill="#f23645"/>
<rect x="680" y="822" width="2" height="85" fill="#089981"/>
<rect x="676" y="844" width="10" height="63" fill="#089981"/>
<rect x="693" y="524" width="2" height="321" fill="#089981"/>
<rect x="689" y="643" width="10" height="202" fill="#089981"/>
<rect x="706" y="566" width="2" height="111" fill="#089981"/>
<rect x="702" y="581" width="10" height="63" fill="#089981"/>
<rect x="719" y="578" width="2" height="147" fill="#f23645"/>
<rect x="715" y="581" width="10" height="90" fill="#f23645"/>
<rect x="732" y="498" width="2" height="208" fill="#089981"/>
<rect x="728" y="552" width="10" height="119" fill="#089981"/>
<rect x="745" y="515" width="2" height="115" fill="#f23645"/>
<rect x="741" y="552" width="10" height="59" fill="#f23645"/>
<rect x="757" y="461" width="2" height="163" fill="#089981"/>
<rect x="753" y="519" width="10" height="92" fill="#089981"/>
<rect x="770" y="508" width="2" height="116" fill="#f23645"/>
<rect x="766" y="519" width="10" height="93" fill="#f23645"/>
<rect x="783" y="546" width="2" height="74" fill="#089981"/>
<rect x="779" y="574" width="10" height="38" fill="#089981"/>
<rect x="796" y="522" width="2" height="85" fill="#089981"/>
<rect x="792" y="550" width="10" height="25" fill="#089981"/>
<rect x="809" y="418" width="2" height="153" fill="#089981"/>
<rect x="805" y="452" width="10" height="99" fill="#089981"/>
<rect x="822" y="382" width="2" height="95" fill="#089981"/>
<rect x="818" y="387" width="10" height="66" fill="#089981"/>
<rect x="835" y="361" width="2" height="97" fill="#f23645"/>
<rect x="831" y="387" width="10" height="63" fill="#f23645"/>
<rect x="848" y="264" width="2" height="195" fill="#089981"/>
<rect x="844" y="321" width="10" height="129" fill="#089981"/>
<rect x="861" y="270" width="2" height="86" fill="#089981"/>
<rect x="857" y="298" width="10" height="24" fill="#089981"/>
<rect x="874" y="269" width="2" height="73" fill="#f23645"/>
<rect x="870" y="297" width="10" height="2" fill="#f23645"/>
<rect x="887" y="169" width="2" height="146" fill="#089981"/>
<rect x="883" y="215" width="10" height="85" fill="#089981"/>
<rect x="900" y="179" width="2" height="124" fill="#f23645"/>
<rect x="896" y="215" width="10" height="40" fill="#f23645"/>
<rect x="913" y="249" width="2" height="120" fill="#f23645"/>
<rect x="909" y="253" width="10" height="83" fill="#f23645"/>
<rect x="926" y="264" width="2" height="91" fill="#f23645"/>
<rect x="922" y="336" width="10" height="6" fill="#f23645"/>
<rect x="939" y="307" width="2" height="68" fill="#f23645"/>
<rect x="935" y="341" width="10" height="27" fill="#f23645"/>
<rect x="952" y="309" width="2" height="88" fill="#089981"/>
<rect x="948" y="320" width="10" height="48" fill="#089981"/>
<rect x="965" y="317" width="2" height="107" fill="#f23645"/>
<rect x="961" y="320" width="10" height="69" fill="#f23645"/>
<rect x="978" y="341" width="2" height="61" fill="#089981"/>
<rect x="974" y="371" width="10" height="18" fill="#089981"/>
<rect x="991" y="291" width="2" height="102" fill="#089981"/>
<rect x="987" y="319" width="10" height="53" fill="#089981"/>
<rect x="1004" y="286" width="2" height="102" fill="#f23645"/>
<rect x="1000" y="319" width="10" height="53" fill="#f23645"/>
<rect x="1017" y="334" width="2" height="53" fill="#f23645"/>
<rect x="1013" y="371" width="10" height="14" fill="#f23645"/>
<rect x="1029" y="347" width="2" height="48" fill="#089981"/>
<rect x="1025" y="357" width="10" height="27" fill="#089981"/>
<rect x="1042" y="312" width="2" height="57" fill="#089981"/>
<rect x="1038" y="337" width="10" height="21" fill="#089981"/>
<rect x="1055" y="315" width="2" height="37" fill="#089981"/>
<rect x="1051" y="333" width="10" height="4" fill="#089981"/>
<rect x="1068" y="290" width="2" height="49" fill="#089981"/>
<rect x="1064" y="331" width="10" height="2" fill="#089981"/>
<rect x="1081" y="269" width="2" height="64" fill="#089981"/>
<rect x="1077" y="319" width="10" height="13" fill="#089981"/>
<rect x="1094" y="278" width="2" height="51" fill="#089981"/>
<rect x="1090" y="318" width="10" height="2" fill="#089981"/>
<rect x="1107" y="287" width="2" height="70" fill="#f23645"/>
<rect x="1103" y="319" width="10" height="33" fill="#f23645"/>
<rect x="1120" y="335" width="2" height="43" fill="#f23645"/>
<rect x="1116" y="350" width="10" height="2" fill="#f23645"/>
<rect x="1133" y="258" width="2" height="98" fill="#089981"/>
<rect x="1129" y="312" width="10" height="41" fill="#089981"/>
<rect x="1146" y="273" width="2" height="55" fill="#089981"/>
<rect x="1142" y="298" width="10" height="15" fill="#089981"/>
<rect x="1159" y="261" width="2" height="82" fill="#f23645"/>
<rect x="1155" y="298" width="10" height="21" fill="#f23645"/>
<rect x="1172" y="272" width="2" height="65" fill="#089981"/>
<rect x="1168" y="304" width="10" height="15" fill="#089981"/>
<rect x="1185" y="176" width="2" height="150" fill="#089981"/>
<rect x="1181" y="222" width="10" height="82" fill="#089981"/>
<rect x="1198" y="159" width="2" height="91" fill="#089981"/>
<rect x="1194" y="216" width="10" height="7" fill="#089981"/>
<rect x="1211" y="196" width="2" height="78" fill="#f23645"/>
<rect x="1207" y="216" width="10" height="56" fill="#f23645"/>
<rect x="1224" y="253" width="2" height="39" fill="#089981"/>
<rect x="1220" y="263" width="10" height="9" fill="#089981"/>
<rect x="1237" y="254" width="2" height="70" fill="#f23645"/>
<rect x="1233" y="263" width="10" height="53" fill="#f23645"/>
<rect x="1250" y="289" width="2" height="32" fill="#089981"/>
<rect x="1246" y="311" width="10" height="5" fill="#089981"/>
<rect x="1263" y="308" width="2" height="55" fill="#f23645"/>
<rect x="1259" y="311" width="10" height="24" fill="#f23645"/>
<rect x="1276" y="306" width="2" height="41" fill="#089981"/>
<rect x="1272" y="323" width="10" height="12" fill="#089981"/>
<rect x="1288" y="305" width="2" height="24" fill="#089981"/>
<rect x="1284" y="311" width="10" height="13" fill="#089981"/>
<rect x="1301" y="306" width="2" height="40" fill="#f23645"/>
<rect x="1297" y="311" width="10" height="33" fill="#f23645"/>
<rect x="1314" y="321" width="2" height="40" fill="#089981"/>
<rect x="1310" y="327" width="10" height="17" fill="#089981"/>
<rect x="1327" y="303" width="2" height="25" fill="#089981"/>
<rect x="1323" y="326" width="10" height="2" fill="#089981"/>
<rect x="1340" y="315" width="2" height="30" fill="#f23645"/>
<rect x="1336" y="326" width="10" height="3" fill="#f23645"/>
<rect x="1353" y="312" width="2" height="27" fill="#089981"/>
<rect x="1349" y="321" width="10" height="8" fill="#089981"/>
<rect x="1366" y="315" width="2" height="21" fill="#f23645"/>
<rect x="1362" y="321" width="10" height="5" fill="#f23645"/>
<rect x="1379" y="291" width="2" height="35" fill="#089981"/>
<rect x="1375" y="310" width="10" height="16" fill="#089981"/>
<rect x="1392" y="289" width="2" height="29" fill="#089981"/>
<rect x="1388" y="295" width="10" height="16" fill="#089981"/>
<rect x="1405" y="280" width="2" height="29" fill="#089981"/>
<rect x="1401" y="293" width="10" height="2" fill="#089981"/>
<rect x="1418" y="287" width="2" height="60" fill="#f23645"/>
<rect x="1414" y="293" width="10" height="31" fill="#f23645"/>
<rect x="1431" y="242" width="2" height="101" fill="#089981"/>
<rect x="1427" y="277" width="10" height="47" fill="#089981"/>
<rect x="1444" y="245" width="2" height="39" fill="#089981"/>
<rect x="1440" y="257" width="10" height="21" fill="#089981"/>
<rect x="1457" y="253" width="2" height="27" fill="#f23645"/>
<rect x="1453" y="258" width="10" height="2" fill="#f23645"/>
<rect x="1470" y="232" width="2" height="39" fill="#f23645"/>
<rect x="1466" y="259" width="10" height="10" fill="#f23645"/>
<rect x="1483" y="259" width="2" height="47" fill="#f23645"/>
<rect x="1479" y="268" width="10" height="36" fill="#f23645"/>
<rect x="1496" y="287" width="2" height="22" fill="#089981"/>
<rect x="1492" y="292" width="10" height="12" fill="#089981"/>
<rect x="1509" y="281" width="2" height="63" fill="#f23645"/>
<rect x="1505" y="292" width="10" height="44" fill="#f23645"/>
<rect x="1522" y="327" width="2" height="37" fill="#f23645"/>
<rect x="1518" y="334" width="10" height="2" fill="#f23645"/>
<rect x="1535" y="313" width="2" height="50" fill="#089981"/>
<rect x="1531" y="314" width="10" height="22" fill="#089981"/>
<rect x="1547" y="314" width="2" height="43" fill="#f23645"/>
<rect x="1543" y="314" width="10" height="7" fill="#f23645"/>
<rect x="1560" y="287" width="2" height="38" fill="#089981"/>
<rect x="1556" y="307" width="10" height="14" fill="#089981"/>
<rect x="1573" y="288" width="2" height="21" fill="#089981"/>
<rect x="1569" y="294" width="10" height="14" fill="#089981"/>
<rect x="1586" y="294" width="2" height="20" fill="#f23645"/>
<rect x="1582" y="294" width="10" height="16" fill="#f23645"/>
<rect x="1599" y="287" width="2" height="26" fill="#089981"/>
<rect x="1595" y="300" width="10" height="10" fill="#089981"/>
<rect x="1612" y="289" width="2" height="42" fill="#f23645"/>
<rect x="1608" y="301" width="10" height="27" fill="#f23645"/>
<rect x="1625" y="325" width="2" height="114" fill="#f23645"/>
<rect x="1621" y="327" width="10" height="67" fill="#f23645"/>
<rect x="1638" y="391" width="2" height="76" fill="#f23645"/>
<rect x="1634" y="394" width="10" height="48" fill="#f23645"/>
<rect x="1651" y="424" width="2" height="70" fill="#089981"/>
<rect x="1647" y="432" width="10" height="10" fill="#089981"/>
<rect x="1664" y="405" width="2" height="41" fill="#089981"/>
<rect x="1660" y="424" width="10" height="9" fill="#089981"/>
<rect x="1677" y="420" width="2" height="102" fill="#f23645"/>
<rect x="1673" y="424" width="10" height="44" fill="#f23645"/>
<rect x="1690" y="424" width="2" height="53" fill="#089981"/>
<rect x="1686" y="429" width="10" height="40" fill="#089981"/>
<rect x="1703" y="368" width="2" height="78" fill="#089981"/>
<rect x="1699" y="391" width="10" height="39" fill="#089981"/>
<rect x="1716" y="389" width="2" height="38" fill="#f23645"/>
<rect x="1712" y="391" width="10" height="30" fill="#f23645"/>
<rect x="1729" y="404" width="2" height="43" fill="#f23645"/>
<rect x="1725" y="420" width="10" height="23" fill="#f23645"/>
<rect x="1742" y="435" width="2" height="52" fill="#f23645"/>
<rect x="1738" y="442" width="10" height="29" fill="#f23645"/>
<rect x="1755" y="452" width="2" height="40" fill="#f23645"/>
<rect x="1751" y="470" width="10" height="5" fill="#f23645"/>
<rect x="1768" y="432" width="2" height="51" fill="#089981"/>
<rect x="1764" y="442" width="10" height="33" fill="#089981"/>
<rect x="1781" y="420" width="2" height="89" fill="#f23645"/>
<rect x="1777" y="442" width="10" height="51" fill="#f23645"/>
<rect x="1794" y="450" width="2" height="50" fill="#089981"/>
<rect x="1790" y="462" width="10" height="31" fill="#089981"/>
<rect x="1806" y="415" width="2" height="48" fill="#089981"/>
<rect x="1802" y="420" width="10" height="43" fill="#089981"/>
<rect x="1819" y="393" width="2" height="37" fill="#089981"/>
<rect x="1815" y="395" width="10" height="26" fill="#089981"/>
<rect x="1832" y="371" width="2" height="28" fill="#f23645"/>
<rect x="1828" y="397" width="10" height="2" fill="#f23645"/>
<rect x="1845" y="383" width="2" height="17" fill="#f23645"/>
<rect x="1841" y="397" width="10" height="2" fill="#f23645"/>
<rect x="1858" y="380" width="2" height="25" fill="#089981"/>
<rect x="1854" y="391" width="10" height="8" fill="#089981"/>
<rect x="1871" y="385" width="2" height="23" fill="#f23645"/>
<rect x="1867" y="389" width="10" height="2" fill="#f23645"/>
<rect x="1884" y="383" width="2" height="26" fill="#f23645"/>
<rect x="1880" y="392" width="10" height="17" fill="#f23645"/>
<rect x="1897" y="380" width="2" height="32" fill="#089981"/>
<rect x="1893" y="386" width="10" height="23" fill="#089981"/>
<rect x="1910" y="331" width="2" height="57" fill="#f23645"/>
<rect x="1906" y="384" width="10" height="2" fill="#f23645"/>
<rect x="1923" y="383" width="2" height="24" fill="#f23645"/>
<rect x="1919" y="386" width="10" height="17" fill="#f23645"/>
<rect x="1936" y="386" width="2" height="22" fill="#089981"/>
<rect x="1932" y="396" width="10" height="8" fill="#089981"/>
<rect x="1949" y="377" width="2" height="22" fill="#089981"/>
<rect x="1945" y="388" width="10" height="9" fill="#089981"/>
<rect x="1962" y="370" width="2" height="26" fill="#089981"/>
<rect x="1958" y="379" width="10" height="10" fill="#089981"/>
<rect x="1975" y="356" width="2" height="38" fill="#089981"/>
<rect x="1971" y="370" width="10" height="10" fill="#089981"/>
<rect x="1988" y="349" width="2" height="36" fill="#f23645"/>
<rect x="1984" y="370" width="10" height="13" fill="#f23645"/>
<rect x="2001" y="375" width="2" height="27" fill="#f23645"/>
<rect x="1997" y="382" width="10" height="8" fill="#f23645"/>
<rect x="2014" y="387" width="2" height="60" fill="#f23645"/>
<rect x="2010" y="389" width="10" height="55" fill="#f23645"/>
<rect x="2027" y="434" width="2" height="33" fill="#f23645"/>
<rect x="2023" y="443" width="10" height="12" fill="#f23645"/>
<rect x="2040" y="448" width="2" height="24" fill="#f23645"/>
<rect x="2036" y="454" width="10" height="7" fill="#f23645"/>
<rect x="2053" y="445" width="2" height="34" fill="#089981"/>
<rect x="2049" y="447" width="10" height="14" fill="#089981"/>
<rect x="2066" y="410" width="2" height="45" fill="#089981"/>
<rect x="2062" y="414" width="10" height="34" fill="#089981"/>
<rect x="2078" y="409" width="2" height="40" fill="#f23645"/>
<rect x="2074" y="414" width="10" height="25" fill="#f23645"/>
<rect x="2091" y="420" width="2" height="54" fill="#f23645"/>
<rect x="2087" y="438" width="10" height="25" fill="#f23645"/>
<rect x="2104" y="449" width="2" height="36" fill="#f23645"/>
<rect x="2100" y="463" width="10" height="8" fill="#f23645"/>
<rect x="2117" y="450" width="2" height="33" fill="#089981"/>
<rect x="2113" y="454" width="10" height="17" fill="#089981"/>
<rect x="2130" y="443" width="2" height="27" fill="#f23645"/>
<rect x="2126" y="453" width="10" height="2" fill="#f23645"/>
<rect x="2143" y="450" width="2" height="22" fill="#f23645"/>
<rect x="2139" y="455" width="10" height="13" fill="#f23645"/>
<rect x="2156" y="457" width="2" height="49" fill="#f23645"/>
<rect x="2152" y="467" width="10" height="33" fill="#f23645"/>
<rect x="2169" y="462" width="2" height="48" fill="#089981"/>
<rect x="2165" y="477" width="10" height="24" fill="#089981"/>
<rect x="2182" y="469" width="2" height="82" fill="#f23645"/>
<rect x="2178" y="477" width="10" height="21" fill="#f23645"/>
<rect x="2195" y="481" width="2" height="36" fill="#f23645"/>
<rect x="2191" y="496" width="10" height="2" fill="#f23645"/>
<rect x="2208" y="444" width="2" height="58" fill="#089981"/>
<rect x="2204" y="447" width="10" height="53" fill="#089981"/>
<rect x="2221" y="435" width="2" height="19" fill="#089981"/>
<rect x="2217" y="442" width="10" height="6" fill="#089981"/>
<rect x="2234" y="428" width="2" height="27" fill="#f23645"/>
<rect x="2230" y="442" width="10" height="10" fill="#f23645"/>
<rect x="2247" y="450" width="2" height="54" fill="#f23645"/>
<rect x="2243" y="451" width="10" height="37" fill="#f23645"/>
<rect x="2260" y="459" width="2" height="47" fill="#f23645"/>
<rect x="2256" y="487" width="10" height="16" fill="#f23645"/>
<rect x="2273" y="494" width="2" height="39" fill="#f23645"/>
<rect x="2269" y="502" width="10" height="21" fill="#f23645"/>
<rect x="2286" y="519" width="2" height="52" fill="#f23645"/>
<rect x="2282" y="522" width="10" height="15" fill="#f23645"/>
<rect x="2299" y="537" width="2" height="27" fill="#f23645"/>
<rect x="2295" y="537" width="10" height="19" fill="#f23645"/>
<rect x="2312" y="550" width="2" height="38" fill="#089981"/>
<rect x="2308" y="551" width="10" height="5" fill="#089981"/>
<rect x="2325" y="523" width="2" height="61" fill="#089981"/>
<rect x="2321" y="531" width="10" height="21" fill="#089981"/>
<rect x="2337" y="528" width="2" height="35" fill="#f23645"/>
<rect x="2333" y="531" width="10" height="12" fill="#f23645"/>
<rect x="2350" y="540" width="2" height="75" fill="#f23645"/>
<rect x="2346" y="542" width="10" height="46" fill="#f23645"/>
<rect x="2363" y="564" width="2" height="32" fill="#089981"/>
<rect x="2359" y="565" width="10" height="25" fill="#089981"/>
<rect x="2376" y="555" width="2" height="46" fill="#f23645"/>
<rect x="2372" y="565" width="10" height="7" fill="#f23645"/>
<rect x="2389" y="568" width="2" height="36" fill="#f23645"/>
<rect x="2385" y="571" width="10" height="24" fill="#f23645"/>
<rect x="2402" y="593" width="2" height="48" fill="#f23645"/>
<rect x="2398" y="594" width="10" height="42" fill="#f23645"/>
<rect x="2415" y="620" width="2" height="44" fill="#f23645"/>
<rect x="2411" y="635" width="10" height="15" fill="#f23645"/>
<rect x="2428" y="627" width="2" height="30" fill="#089981"/>
<rect x="2424" y="644" width="10" height="6" fill="#089981"/>
<rect x="2441" y="607" width="2" height="59" fill="#089981"/>
<rect x="2437" y="610" width="10" height="35" fill="#089981"/>
<rect x="2454" y="598" width="2" height="18" fill="#089981"/>
<rect x="2450" y="600" width="10" height="11" fill="#089981"/>
<rect x="2467" y="566" width="2" height="37" fill="#089981"/>
<rect x="2463" y="576" width="10" height="26" fill="#089981"/>
<rect x="2480" y="521" width="2" height="59" fill="#089981"/>
<rect x="2476" y="523" width="10" height="53" fill="#089981"/>
<rect x="2493" y="514" width="2" height="28" fill="#f23645"/>
<rect x="2489" y="523" width="10" height="14" fill="#f23645"/>
<rect x="2506" y="518" width="2" height="28" fill="#089981"/>
<rect x="2502" y="527" width="10" height="10" fill="#089981"/>
<rect x="2519" y="464" width="2" height="71" fill="#089981"/>
<rect x="2515" y="485" width="10" height="43" fill="#089981"/>
<rect x="2532" y="465" width="2" height="39" fill="#089981"/>
<rect x="2528" y="467" width="10" height="19" fill="#089981"/>
<rect x="2545" y="458" width="2" height="37" fill="#f23645"/>
<rect x="2541" y="467" width="10" height="28" fill="#f23645"/>
<rect x="2558" y="464" width="2" height="38" fill="#f23645"/>
<rect x="2554" y="493" width="10" height="2" fill="#f23645"/>
<rect x="2571" y="469" width="2" height="26" fill="#089981"/>
<rect x="2567" y="478" width="10" height="17" fill="#089981"/>
<rect x="2584" y="441" width="2" height="41" fill="#089981"/>
<rect x="2580" y="477" width="10" height="2" fill="#089981"/>
<rect x="2596" y="461" width="2" height="48" fill="#f23645"/>
<rect x="2592" y="479" width="10" height="30" fill="#f23645"/>
<rect x="2609" y="488" width="2" height="32" fill="#f23645"/>
<rect x="2605" y="508" width="10" height="12" fill="#f23645"/>
<rect x="2622" y="481" width="2" height="40" fill="#089981"/>
<rect x="2618" y="492" width="10" height="28" fill="#089981"/>
<rect x="2635" y="490" width="2" height="59" fill="#f23645"/>
<rect x="2631" y="492" width="10" height="48" fill="#f23645"/>
<rect x="2648" y="526" width="2" height="20" fill="#f23645"/>
<rect x="2644" y="539" width="10" height="4" fill="#f23645"/>
<rect x="2661" y="526" width="2" height="29" fill="#089981"/>
<rect x="2657" y="539" width="10" height="3" fill="#089981"/>
<rect x="2674" y="539" width="2" height="32" fill="#f23645"/>
<rect x="2670" y="539" width="10" height="31" fill="#f23645"/>
<rect x="2687" y="543" width="2" height="35" fill="#089981"/>
<rect x="2683" y="543" width="10" height="27" fill="#089981"/>
<rect x="2700" y="539" width="2" height="25" fill="#f23645"/>
<rect x="2696" y="543" width="10" height="15" fill="#f23645"/>
<rect x="2713" y="524" width="2" height="46" fill="#089981"/>
<rect x="2709" y="529" width="10" height="29" fill="#089981"/>
<rect x="2726" y="516" width="2" height="26" fill="#089981"/>
<rect x="2722" y="527" width="10" height="2" fill="#089981"/>
<rect x="2739" y="521" width="2" height="18" fill="#089981"/>
<rect x="2735" y="525" width="10" height="4" fill="#089981"/>
<rect x="2752" y="513" width="2" height="25" fill="#f23645"/>
<rect x="2748" y="524" width="10" height="11" fill="#f23645"/>
<rect x="2765" y="505" width="2" height="32" fill="#089981"/>
<rect x="2761" y="519" width="10" height="16" fill="#089981"/>
<rect x="2778" y="464" width="2" height="61" fill="#089981"/>
<rect x="2774" y="467" width="10" height="53" fill="#089981"/>
<rect x="2791" y="462" width="2" height="29" fill="#f23645"/>
<rect x="2787" y="467" width="10" height="16" fill="#f23645"/>
<rect x="2804" y="479" width="2" height="36" fill="#089981"/>
<rect x="2800" y="479" width="10" height="4" fill="#089981"/>
<rect x="2817" y="389" width="2" height="91" fill="#089981"/>
<rect x="2813" y="394" width="10" height="86" fill="#089981"/>
<rect x="2830" y="318" width="2" height="86" fill="#089981"/>
<rect x="2826" y="327" width="10" height="68" fill="#089981"/>
<rect x="2843" y="308" width="2" height="27" fill="#089981"/>
<rect x="2839" y="308" width="10" height="20" fill="#089981"/>
</g>
<line x1="20" y1="308" x2="2996" y2="308" stroke="#089981" stroke-width="2" stroke-dasharray="2 4"/>
<g stroke="#2962ff" stroke-width="4" stroke-linecap="round" stroke-linejoin="round" fill="none">
<line x1="357.1" y1="981.6" x2="862.0" y2="167.9"/>
<polyline points="834.2,174.4 862.0,167.9 868.7,195.7"/>
</g>
<path d="M2817.5,587.2 L2840.6,623.4 Q2841.4,625.2 2839.2,624.8 L2829.9,622.8 L2819.4,740.2 Q2817.5,743.4 2815.6,740.2 L2805.1,622.8 L2795.8,624.8 Q2793.6,625.2 2794.4,623.4 Z" fill="#1e53e5" stroke="#1e53e5" stroke-width="1.6" stroke-linejoin="round"/>
</svg>
<circle cx="2844" cy="1453" r="19.5" fill="#fff" stroke="#9c27b0" stroke-width="3"/>
<path d="M2849.2,1442.1 L2835.2,1453.6 L2843.6,1454.1 L2837.3,1462.7 L2838.7,1463.9 L2852.8,1452.3 L2844.4,1451.8 L2850.8,1443.5 Z" fill="#9c27b0"/>
<g id="txt" opacity="0.999">
<text x="3014.5" y="169.0" font-size="24" fill="#131722" letter-spacing="1.54">0.5200</text>
<text x="3014.5" y="280.2" font-size="24" fill="#131722" letter-spacing="1.54">0.4800</text>
<text x="3014.5" y="401.2" font-size="24" fill="#131722" letter-spacing="1.54">0.4400</text>
<text x="3014.5" y="465.9" font-size="24" fill="#131722" letter-spacing="1.54">0.4200</text>
<text x="3014.5" y="533.7" font-size="24" fill="#131722" letter-spacing="1.54">0.4000</text>
<text x="3014.5" y="605.0" font-size="24" fill="#131722" letter-spacing="1.54">0.3800</text>
<text x="3014.5" y="680.2" font-size="24" fill="#131722" letter-spacing="1.54">0.3600</text>
<text x="3014.5" y="759.6" font-size="24" fill="#131722" letter-spacing="1.54">0.3400</text>
<text x="3014.5" y="843.9" font-size="24" fill="#131722" letter-spacing="1.54">0.3200</text>
<text x="3014.5" y="910.6" font-size="24" fill="#131722" letter-spacing="1.54">0.3050</text>
<text x="3014.5" y="980.7" font-size="24" fill="#131722" letter-spacing="1.54">0.2900</text>
<text x="3014.5" y="1054.6" font-size="24" fill="#131722" letter-spacing="1.54">0.2750</text>
<text x="3014.5" y="1132.5" font-size="24" fill="#131722" letter-spacing="1.54">0.2600</text>
<text x="3014.5" y="1215.1" font-size="24" fill="#131722" letter-spacing="1.54">0.2450</text>
<text x="3014.5" y="1284.9" font-size="24" fill="#131722" letter-spacing="1.54">0.2330</text>
<text x="3014.5" y="1345.9" font-size="24" fill="#131722" letter-spacing="1.54">0.2230</text>
<text x="3014.5" y="1409.7" font-size="24" fill="#131722" letter-spacing="1.54">0.2130</text>
<text x="3014.5" y="1473.1" font-size="24" fill="#131722" letter-spacing="1.54">0.2035</text>
<path d="M2998,198.0 H3104 Q3108,198.0 3108,202.0 V228.0 Q3108,232.0 3104,232.0 H2998 Z" fill="#000"/>
<text x="3014.5" y="223.6" font-size="24" fill="#fff" letter-spacing="1.54">0.5000</text>
<path d="M2998,257.0 H3104 Q3108,257.0 3108,261.0 V287.0 Q3108,291.0 3104,291.0 H2998 Z" fill="#000"/>
<text x="3014.5" y="282.6" font-size="24" fill="#fff" letter-spacing="1.54">0.4701</text>
<path d="M2998,360.0 H3104 Q3108,360.0 3108,364.0 V390.0 Q3108,394.0 3104,394.0 H2998 Z" fill="#000"/>
<text x="3014.5" y="385.6" font-size="24" fill="#fff" letter-spacing="1.54">0.4450</text>
<path d="M2998,425.0 H3104 Q3108,425.0 3108,429.0 V455.0 Q3108,459.0 3104,459.0 H2998 Z" fill="#000"/>
<text x="3014.5" y="450.6" font-size="24" fill="#fff" letter-spacing="1.54">0.4245</text>
<path d="M2998,459.0 H3104 Q3108,459.0 3108,463.0 V489.0 Q3108,493.0 3104,493.0 H2998 Z" fill="#ff0000"/>
<text x="3014.5" y="484.6" font-size="24" fill="#fff" letter-spacing="1.54">0.4168</text>
<path d="M2998,493.0 H3104 Q3108,493.0 3108,497.0 V523.0 Q3108,527.0 3104,527.0 H2998 Z" fill="#00ffff"/>
<text x="3014.5" y="518.6" font-size="24" fill="#000" letter-spacing="1.54">0.4105</text>
<path d="M2998,527.0 H3104 Q3108,527.0 3108,531.0 V557.0 Q3108,561.0 3104,561.0 H2998 Z" fill="#ff7f00"/>
<text x="3014.5" y="552.6" font-size="24" fill="#fff" letter-spacing="1.54">0.4104</text>
<path d="M2998,561.0 H3104 Q3108,561.0 3108,565.0 V591.0 Q3108,595.0 3104,595.0 H2998 Z" fill="#0000ff"/>
<text x="3014.5" y="586.6" font-size="24" fill="#fff" letter-spacing="1.54">0.3916</text>
<path d="M2998,847.0 H3104 Q3108,847.0 3108,851.0 V877.0 Q3108,881.0 3104,881.0 H2998 Z" fill="#000"/>
<text x="3014.5" y="872.6" font-size="24" fill="#fff" letter-spacing="1.54">0.3134</text>
<path d="M2998,931.0 H3104 Q3108,931.0 3108,935.0 V961.0 Q3108,965.0 3104,965.0 H2998 Z" fill="#000"/>
<text x="3014.5" y="956.6" font-size="24" fill="#fff" letter-spacing="1.54">0.2950</text>
<path d="M2998,1118.0 H3104 Q3108,1118.0 3108,1122.0 V1148.0 Q3108,1152.0 3104,1152.0 H2998 Z" fill="#000"/>
<text x="3014.5" y="1143.6" font-size="24" fill="#fff" letter-spacing="1.54">0.2580</text>
<path d="M2998,1209.0 H3104 Q3108,1209.0 3108,1213.0 V1239.0 Q3108,1243.0 3104,1243.0 H2998 Z" fill="#000"/>
<text x="3014.5" y="1234.6" font-size="24" fill="#fff" letter-spacing="1.54">0.2416</text>
<path d="M2998,1336.0 H3104 Q3108,1336.0 3108,1340.0 V1366.0 Q3108,1370.0 3104,1370.0 H2998 Z" fill="#000"/>
<text x="3014.5" y="1361.6" font-size="24" fill="#fff" letter-spacing="1.54">0.2205</text>
<path d="M2998,291 H3126 Q3130,291 3130,295 V349 Q3130,353 3126,353 H2998 Z" fill="#089981"/>
<text x="3014.5" y="316.4" font-size="24" fill="#fff" letter-spacing="1.54">0.4677</text>
<text x="3014.5" y="344.2" font-size="24" fill="#fff" letter-spacing="1.36" fill-opacity="0.72">03:19:02</text>
<rect x="3004" y="62" width="128" height="52" rx="9" fill="#fff" stroke="#ebecee" stroke-width="1.5"/>
<text x="3022.3" y="95.8" font-size="23.5" fill="#131722" letter-spacing="-0.1">USDT</text>
<svg x="20" y="1478" width="3120" height="56" viewBox="20 1478 3120 56" overflow="hidden">
<text x="20.3" y="1516.4" font-size="24" fill="#131722" text-anchor="middle">3</text>
<text x="175.7" y="1516.4" font-size="24" fill="#131722" text-anchor="middle">5</text>
<text x="331.1" y="1516.4" font-size="24" fill="#131722" text-anchor="middle">7</text>
<text x="486.5" y="1516.4" font-size="24" fill="#131722" text-anchor="middle">9</text>
<text x="641.9" y="1516.4" font-size="24" fill="#131722" text-anchor="middle">11</text>
<text x="797.4" y="1516.4" font-size="24" fill="#131722" text-anchor="middle">13</text>
<text x="952.8" y="1516.4" font-size="24" fill="#131722" text-anchor="middle">15</text>
<text x="1108.2" y="1516.4" font-size="24" fill="#131722" text-anchor="middle">17</text>
<text x="1263.6" y="1516.4" font-size="24" fill="#131722" text-anchor="middle">19</text>
<text x="1419.0" y="1516.4" font-size="24" fill="#131722" text-anchor="middle">21</text>
<text x="1574.4" y="1516.4" font-size="24" fill="#131722" text-anchor="middle">23</text>
<text x="1729.8" y="1516.4" font-size="24" fill="#131722" text-anchor="middle">25</text>
<text x="1885.2" y="1516.4" font-size="24" fill="#131722" text-anchor="middle">27</text>
<text x="2040.6" y="1516.4" font-size="24" fill="#131722" text-anchor="middle">29</text>
<text x="2429.1" y="1516.4" font-size="24" fill="#131722" text-anchor="middle">3</text>
<text x="2584.5" y="1516.4" font-size="24" fill="#131722" text-anchor="middle">5</text>
<text x="2739.9" y="1516.4" font-size="24" fill="#131722" text-anchor="middle">7</text>
<text x="2895.3" y="1516.4" font-size="24" fill="#131722" text-anchor="middle">9</text>
<text x="2273.7" y="1516.2" font-size="24" fill="#131722" font-weight="bold" text-anchor="middle">Aug</text>
</svg>
<text x="18.8" y="40.4" font-size="24" fill="#131722" letter-spacing="0.72">BeInCrypto created with TradingView.com, Aug 08, 2025 10:10 UTC+5:30</text>
<text x="35.7" y="93.6" font-size="22.2" fill="#131722" letter-spacing="1.18">Stellar / TetherUS · 4h · BINANCE</text>
<text x="423.8" y="93.6" font-size="22.2" fill="#131722" letter-spacing="0">O</text>
<text x="442.3" y="93.6" font-size="22.2" fill="#089981" letter-spacing="1.8">0.4612</text>
<text x="534.0" y="93.6" font-size="22.2" fill="#131722" letter-spacing="0">H</text>
<text x="550.6" y="93.6" font-size="22.2" fill="#089981" letter-spacing="2.44">0.4679</text>
<text x="644.6" y="93.6" font-size="22.2" fill="#131722" letter-spacing="0">L</text>
<text x="657.9" y="93.6" font-size="22.2" fill="#089981" letter-spacing="2.48">0.4585</text>
<text x="752.7" y="93.6" font-size="22.2" fill="#131722" letter-spacing="0">C</text>
<text x="770.2" y="93.6" font-size="22.2" fill="#089981" letter-spacing="2.06">0.4677</text>
<text x="862.4" y="93.6" font-size="22.2" fill="#089981" letter-spacing="1.85">+0.0066 (+1.43%)</text>
<text x="1082.5" y="93.6" font-size="22.2" fill="#131722" letter-spacing="1.65">Vol</text>
<text x="1117.3" y="93.6" font-size="22.2" fill="#089981" letter-spacing="1.18">9.8 M</text>
<text x="35.7" y="127.8" font-size="22.2" fill="#131722" letter-spacing="1.94">EMA 20/50/100/200</text>
<text x="276.0" y="127.8" font-size="22.2" fill="#ff0000" letter-spacing="1.76">0.4168</text>
<text x="366.7" y="127.8" font-size="22.2" fill="#ff7f00" letter-spacing="1.62">0.4104</text>
<text x="457.6" y="127.8" font-size="22.2" fill="#00ffff" letter-spacing="1.72">0.4105</text>
<text x="548.1" y="127.8" font-size="22.2" fill="#0000ff" letter-spacing="1.8">0.3916</text>
<g fill="#131313">
<path d="M24,1581.7 H48 V1607.8 H35.8 V1589.9 H24 Z"/>
<circle cx="57.8" cy="1583.9" r="6.1"/>
<path d="M68.7,1581.7 H84 L72.2,1607.8 H57.8 Z"/>
</g>
<g transform="translate(98.0,1607.8) scale(1.1,1)"><text x="0" y="0" font-size="36.5" font-weight="bold" fill="#131313" letter-spacing="0.52">TradingView</text></g>
</g>
</svg>
</body></html>
